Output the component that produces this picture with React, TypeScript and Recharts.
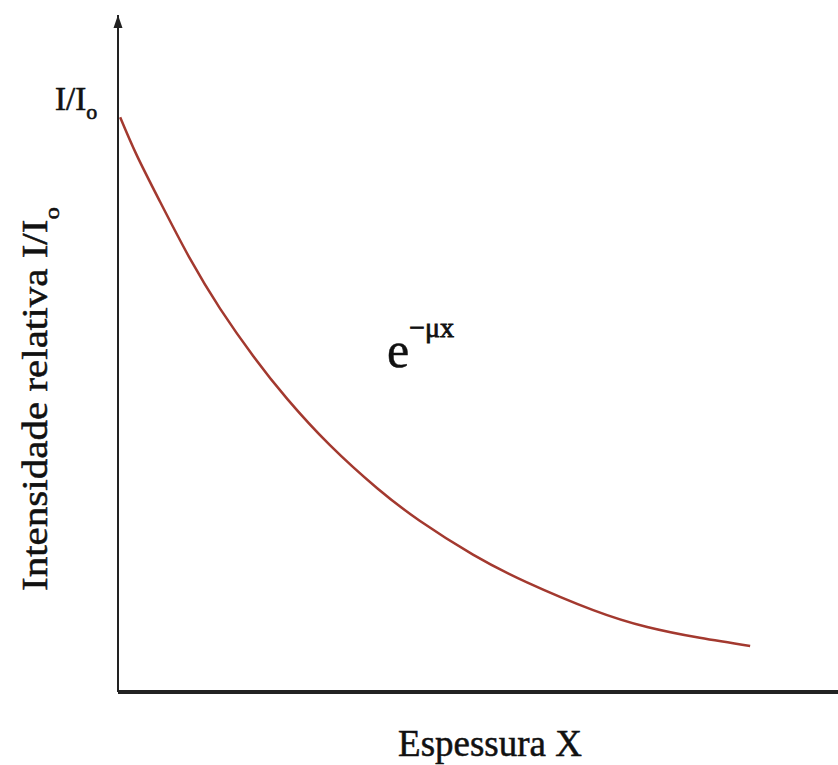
import { Line, LineChart, ReferenceDot, XAxis, YAxis } from "recharts";

// thickness (arbitrary units) and relative intensity
const thickness = [0.03, 0.26, 0.58, 1.0, 1.42, 1.88, 2.35, 2.94, 3.6, 4.19, 4.93, 5.68, 6.6, 7.35, 8.08, 8.78];
const intensity = [8.49, 7.93, 7.25, 6.4, 5.66, 4.96, 4.33, 3.65, 3.01, 2.53, 2.03, 1.62, 1.21, 0.96, 0.8, 0.68];

const xLabel = "Espessura X";
const yLabel = "Intensidade relativa I/I";
const topLabel = "I/I";
const curveLabel = "e";
const curveExponent = "−μx";

const FONT = "'Liberation Serif', 'Times New Roman', serif";
const CURVE = "#a3392f";
const INK = "#111";

const data = thickness.map((x, i) => ({ x, y: intensity[i] }));

const Arrow = (props: any) => {
  const { cx, cy } = props;
  return <path d={`M${cx},${cy} L${cx - 4.5},${cy + 13} L${cx + 4.5},${cy + 13} Z`} fill="#222" />;
};

const App = () => {
  return (
    <div style={{ position: "absolute", left: 0, top: 0, background: "#fff" }}>
      <LineChart
        width={838}
        height={765}
        data={data}
        margin={{ top: 15, right: 0, bottom: 72, left: 117 }}
      >
        <XAxis
          dataKey="x"
          type="number"
          domain={[0, 10]}
          height={1}
          tick={false}
          tickLine={false}
          axisLine={{ stroke: "#222", strokeWidth: 4 }}
        />
        <YAxis
          type="number"
          domain={[0, 10]}
          width={1}
          tick={false}
          tickLine={false}
          axisLine={{ stroke: "#222", strokeWidth: 2 }}
        />
        <ReferenceDot x={0} y={10} r={0} ifOverflow="visible" shape={Arrow} />
        <Line
          type="natural"
          dataKey="y"
          stroke={CURVE}
          strokeWidth={2.5}
          dot={false}
          activeDot={false}
          isAnimationActive={false}
        />
        <text x={490} y={756} textAnchor="middle" fontFamily={FONT} fontSize={37} fill={INK} stroke={INK} strokeWidth={0.5}>
          {xLabel}
        </text>
        <text
          transform="translate(47,591) rotate(-90) scale(1.14,1)"
          fontFamily={FONT}
          fontSize={36}
          fill={INK}
          stroke={INK}
          strokeWidth={0.5}
        >
          {yLabel}
          <tspan fontSize={22} dy={12}>o</tspan>
        </text>
        <text x={55} y={110} fontFamily={FONT} fontSize={33} fill={INK} stroke={INK} strokeWidth={0.6}>
          {topLabel}
          <tspan fontSize={22} dy={9}>o</tspan>
        </text>
        <text x={387} y={367} fontFamily={FONT} fontSize={50} fill={INK} stroke={INK} strokeWidth={0.5}>
          {curveLabel}
          <tspan fontSize={28} dy={-30} strokeWidth={0.8}>{curveExponent}</tspan>
        </text>
      </LineChart>
    </div>
  );
};

export default App;
